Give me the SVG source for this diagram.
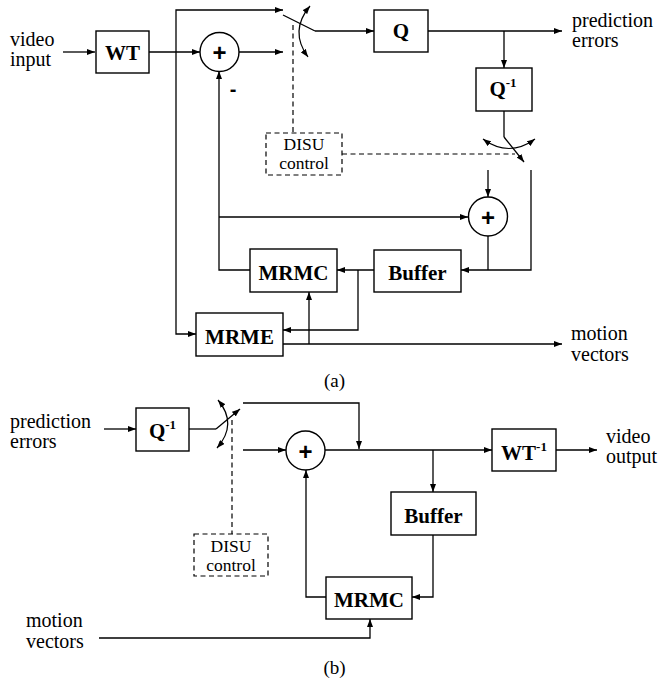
<svg xmlns="http://www.w3.org/2000/svg" width="659" height="682" viewBox="0 0 659 682">
<defs>
<marker id="ah" markerUnits="userSpaceOnUse" markerWidth="9" markerHeight="6" refX="8" refY="3" orient="auto-start-reverse">
<path d="M0,0 L8,3 L0,6 z" fill="#000"/>
</marker>
<style>
.box{fill:#fff;stroke:#000;stroke-width:1.4}
.dbox{fill:#fff;stroke:#000;stroke-width:1.2;stroke-dasharray:5,3.5}
.ln{fill:none;stroke:#000;stroke-width:1.3}
.ar{fill:none;stroke:#000;stroke-width:1.3;marker-end:url(#ah)}
.ar2{fill:none;stroke:#000;stroke-width:1.2;marker-end:url(#ah);marker-start:url(#ah)}
.dash{fill:none;stroke:#000;stroke-width:1.2;stroke-dasharray:5,3.5}
.lbl{font-family:"Liberation Serif","Times New Roman","DejaVu Serif",serif;font-size:20px;fill:#000}
.bl{font-family:"Liberation Serif","Times New Roman","DejaVu Serif",serif;font-size:21px;font-weight:bold;fill:#000;text-anchor:middle}
.sup{font-size:13px}
.pl{font-family:"Liberation Sans",Arial,sans-serif;font-size:24px;font-weight:bold;fill:#000;text-anchor:middle}
.cap{font-family:"Liberation Serif","Times New Roman","DejaVu Serif",serif;font-size:19px;fill:#000;text-anchor:middle}
.dl{font-family:"Liberation Serif","Times New Roman","DejaVu Serif",serif;font-size:17.5px;fill:#000;text-anchor:middle}
</style>
</defs>
<rect width="659" height="682" fill="#fff"/>

<g id="connectors">
<!-- (a) -->
<path class="ar" d="M63,52 H95"/>
<path class="ar" d="M149,52 H200"/>
<path class="ar" d="M176,52 V10 H283"/>
<path class="ar" d="M176,52 V334 H196"/>
<path class="ar" d="M239,52 H283"/>
<path class="ln" d="M283,15 L315,31"/>
<path class="ar" d="M315,31 H374"/>
<path class="ar2" d="M310,6 Q289,31 308,57"/>
<path class="dash" d="M293,25 V133"/>
<path class="ar" d="M428,31 H562"/>
<path class="ar" d="M504,31 V68"/>
<path class="ln" d="M504,111 V137"/>
<path class="ar" d="M504,137 L524,162"/>
<path class="ar2" d="M483,139 Q509,158 535,139"/>
<path class="dash" d="M342,154 H515"/>
<path class="ar" d="M488,170 V197"/>
<path class="ar" d="M531,170 V270 H461"/>
<path class="ln" d="M488,236 V270"/>
<path class="ar" d="M250,270 H219 V71"/>
<path class="ar" d="M219,217 H468"/>
<path class="ar" d="M374,270 H337"/>
<path class="ar" d="M358,270 V330 H283"/>
<path class="ar" d="M283,344 H562"/>
<path class="ar" d="M309,344 V292"/>
<!-- (b) -->
<path class="ar" d="M104,429 H136"/>
<path class="ln" d="M189,429 H216"/>
<path class="ar" d="M216,429 L240,409"/>
<path class="ar2" d="M218,400 Q238,424 217,448"/>
<path class="dash" d="M232,420 V534"/>
<path class="ar" d="M243,403 H359 V449"/>
<path class="ar" d="M243,450 H286"/>
<path class="ar" d="M325,450 H492"/>
<path class="ar" d="M433,450 V492"/>
<path class="ar" d="M556,450 H597"/>
<path class="ar" d="M433,535 V597 H412"/>
<path class="ar" d="M326,597 H306 V470"/>
<path class="ar" d="M99,638 H370 V619"/>
</g>

<!-- (a) nodes -->
<g id="a-wt"><rect class="box" x="96" y="31" width="53" height="42"/><text class="bl" x="122.5" y="60">WT</text></g>
<g id="a-sum1"><circle class="box" cx="219.5" cy="52" r="19.5"/><text class="pl" x="219.5" y="61">+</text></g>
<g id="a-minus"><text class="pl" x="233" y="96" style="font-size:20px">-</text></g>
<g id="a-q"><rect class="box" x="374" y="10" width="54" height="42"/><text class="bl" x="401" y="38">Q</text></g>
<g id="a-qinv"><rect class="box" x="476" y="68" width="56" height="43"/><text class="bl" x="503" y="96">Q<tspan class="sup" dy="-9">-1</tspan></text></g>
<g id="a-disu"><rect class="dbox" x="266" y="133" width="76" height="42"/><text class="dl" x="304" y="150">DISU</text><text class="dl" x="304" y="169">control</text></g>
<g id="a-sum2"><circle class="box" cx="488" cy="216.5" r="19.5"/><text class="pl" x="488" y="225.5">+</text></g>
<g id="a-mrmc"><rect class="box" x="250" y="249" width="87" height="43"/><text class="bl" x="293.5" y="280">MRMC</text></g>
<g id="a-buffer"><rect class="box" x="374" y="250" width="87" height="42"/><text class="bl" x="417.5" y="280">Buffer</text></g>
<g id="a-mrme"><rect class="box" x="196" y="313" width="87" height="43"/><text class="bl" x="239.5" y="344">MRME</text></g>
<g id="a-labels">
<text class="lbl" x="10" y="46">video</text><text class="lbl" x="10" y="66">input</text>
<text class="lbl" x="572" y="27">prediction</text><text class="lbl" x="572" y="47">errors</text>
<text class="lbl" x="571" y="340">motion</text><text class="lbl" x="571" y="361">vectors</text>
<text class="cap" x="334.5" y="387">(a)</text>
</g>

<!-- (b) nodes -->
<g id="b-qinv"><rect class="box" x="136" y="408" width="53" height="43"/><text class="bl" x="162.5" y="438">Q<tspan class="sup" dy="-9">-1</tspan></text></g>
<g id="b-disu"><rect class="dbox" x="194" y="534" width="74" height="42"/><text class="dl" x="231" y="552">DISU</text><text class="dl" x="231" y="571">control</text></g>
<g id="b-sum"><circle class="box" cx="305.5" cy="450.5" r="19.5"/><text class="pl" x="305.5" y="459.5">+</text></g>
<g id="b-wtinv"><rect class="box" x="492" y="429" width="64" height="42"/><text class="bl" x="524" y="460">WT<tspan class="sup" dy="-9">-1</tspan></text></g>
<g id="b-buffer"><rect class="box" x="391" y="492" width="85" height="43"/><text class="bl" x="433.5" y="523">Buffer</text></g>
<g id="b-mrmc"><rect class="box" x="326" y="577" width="86" height="42"/><text class="bl" x="369" y="607">MRMC</text></g>
<g id="b-labels">
<text class="lbl" x="10" y="428">prediction</text><text class="lbl" x="10" y="448">errors</text>
<text class="lbl" x="606" y="443">video</text><text class="lbl" x="606" y="463">output</text>
<text class="lbl" x="26" y="627">motion</text><text class="lbl" x="26" y="648">vectors</text>
<text class="cap" x="334.5" y="674">(b)</text>
</g>
</svg>
